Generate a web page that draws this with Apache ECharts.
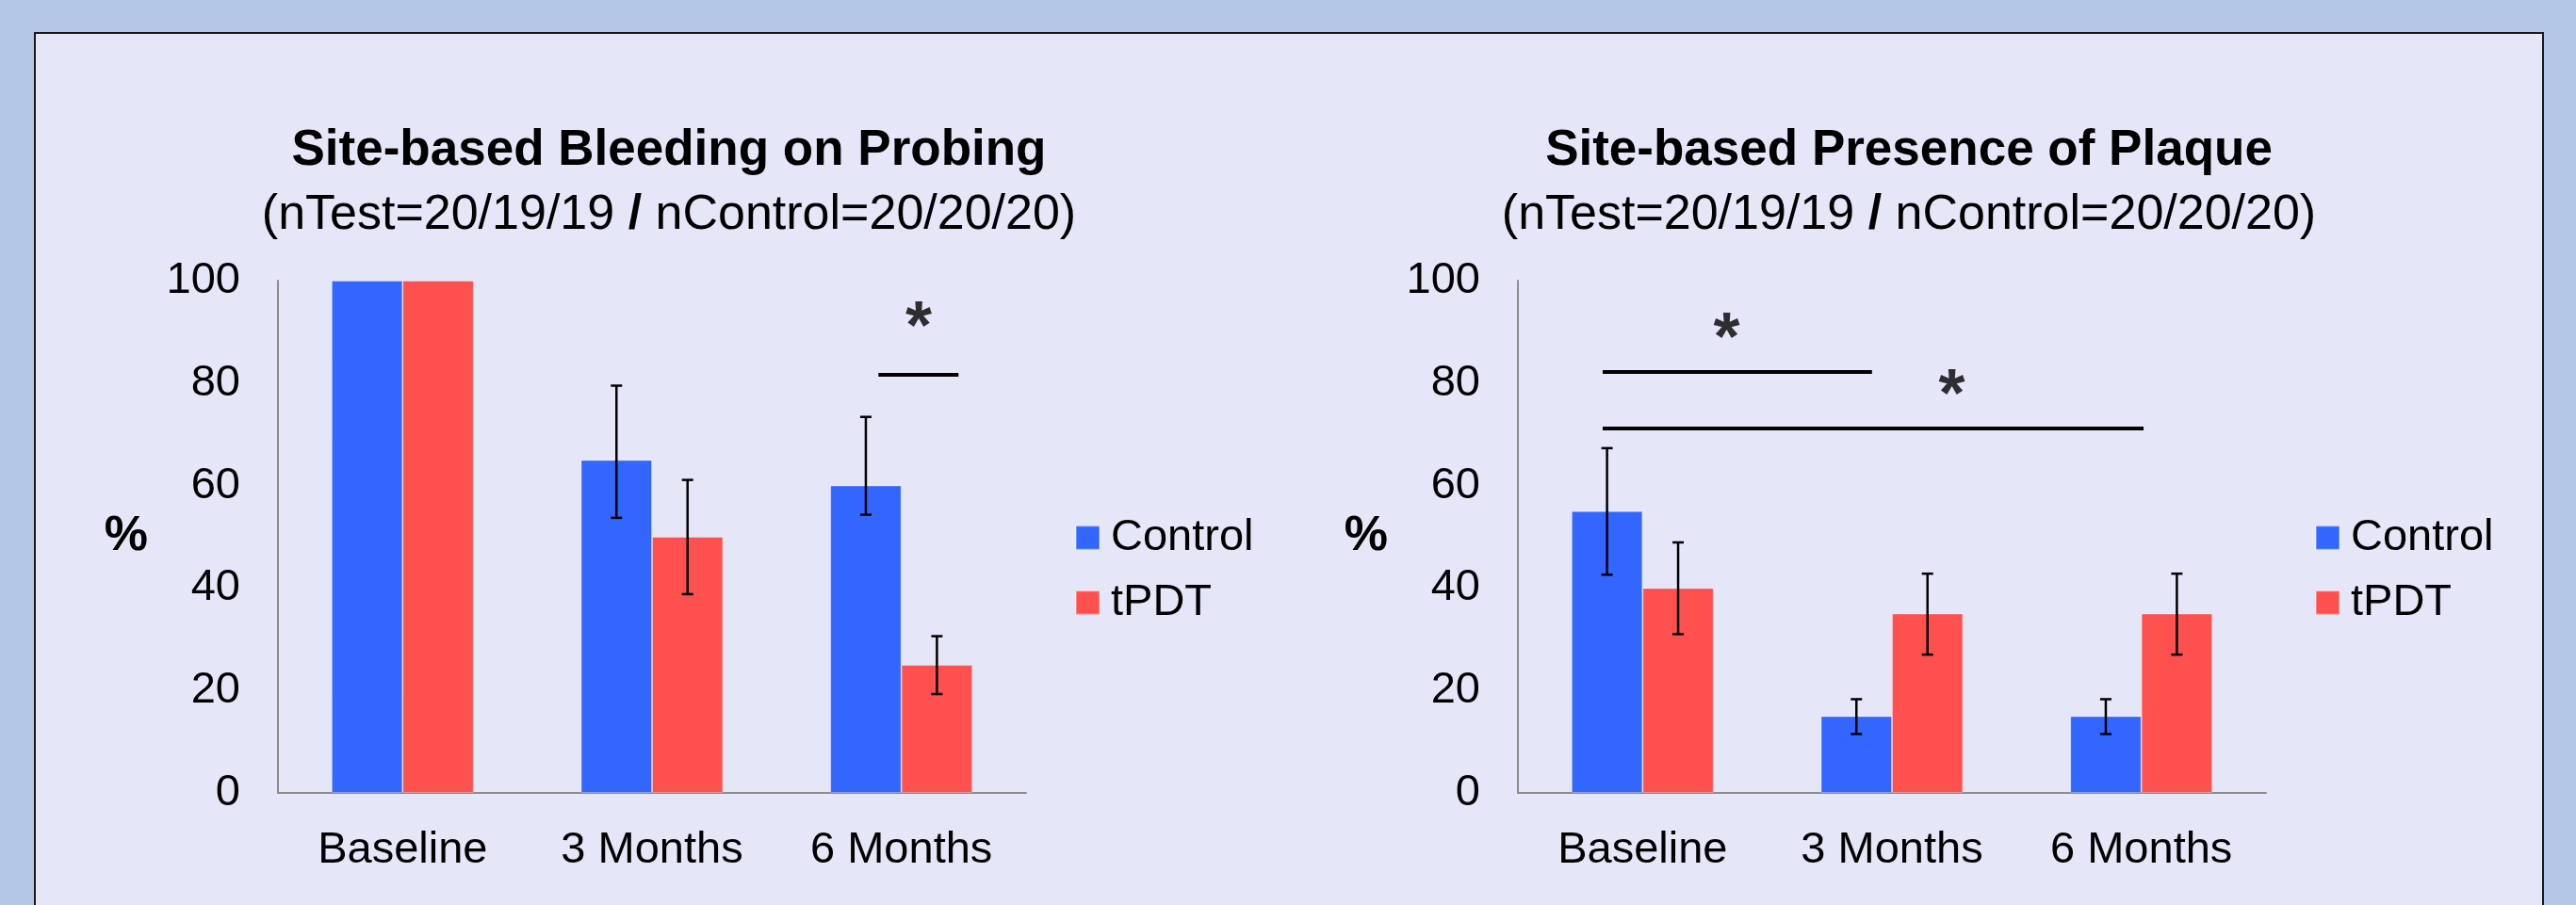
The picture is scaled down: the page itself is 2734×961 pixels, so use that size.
<!DOCTYPE html>
<html>
<head>
<meta charset="utf-8">
<script src="https://cdn.jsdelivr.net/npm/echarts@6/dist/echarts.min.js"></script>
<style>
html,body{margin:0;padding:0;background:#B4C7E7;}
#chart{width:2734px;height:961px;}
</style>
</head>
<body>
<div id="chart"></div>
<script>
// ---- data ----
var categories = ['Baseline', '3 Months', '6 Months'];
var seriesNames = ['Control', 'tPDT'];
var yTicks = [0, 20, 40, 60, 80, 100];

// Site-based Bleeding on Probing (%)
var bopControl = [100, 65, 60];
var bopTpdt = [100, 50, 25];
var bopControlErrLow = [null, 53.7, 54.3];
var bopControlErrHigh = [null, 79.5, 73.4];
var bopTpdtErrLow = [null, 38.8, 19.3];
var bopTpdtErrHigh = [null, 61.1, 30.6];
// significance bars: [xStart, xEnd, y] in category units (0..3) and %
var bopSigLines = [[2.408, 2.729, 81.6]];
var bopStars = [[2.569, 93.3]];

// Site-based Presence of Plaque (%)
var plqControl = [55, 15, 15];
var plqTpdt = [40, 35, 35];
var plqControlErrLow = [42.6, 11.5, 11.5];
var plqControlErrHigh = [67.3, 18.3, 18.3];
var plqTpdtErrLow = [31.0, 27.0, 27.0];
var plqTpdtErrHigh = [48.9, 42.8, 42.8];
var plqSigLines = [[0.340, 1.420, 82.2], [0.340, 2.509, 71.1]];
var plqStars = [[0.837, 91.2], [1.740, 80.1]];

var titles = ['Site-based Bleeding on Probing', 'Site-based Presence of Plaque'];
var subtitle = '(nTest=20/19/19 {b|/} nControl=20/20/20)';

// ---- styling ----
var FONT = '"Liberation Sans", Arial, Helvetica, sans-serif';
var BLUE = '#3366FF', RED = '#FF5050';
var BAR_W = 0.285;

var chart = echarts.init(document.getElementById('chart'), null, {renderer: 'canvas'});

function errData(lo, hi) {
  var out = [];
  for (var i = 0; i < lo.length; i++) {
    if (lo[i] != null && hi[i] != null) out.push([i, lo[i], hi[i]]);
  }
  return out;
}

function errSeries(name, lo, hi, axisIdx, sign) {
  return {
    type: 'custom', name: name, xAxisIndex: axisIdx * 2, yAxisIndex: axisIdx, z: 5,
    data: errData(lo, hi),
    encode: {x: 0, y: [1, 2]},
    renderItem: function (params, api) {
      var c = api.value(0);
      var pLo = api.coord([c, api.value(1)]);
      var pHi = api.coord([c, api.value(2)]);
      var band = api.size([1, 0])[0];
      var x = pLo[0] + sign * band * BAR_W / 2;
      var cap = 6;
      var st = {stroke: '#000', lineWidth: 2.5};
      return {type: 'group', children: [
        {type: 'line', shape: {x1: x, y1: pHi[1], x2: x, y2: pLo[1]}, style: st},
        {type: 'line', shape: {x1: x - cap, y1: pHi[1], x2: x + cap, y2: pHi[1]}, style: st},
        {type: 'line', shape: {x1: x - cap, y1: pLo[1], x2: x + cap, y2: pLo[1]}, style: st}
      ]};
    },
    silent: true, tooltip: {show: false}
  };
}

function sigSeries(lines, axisIdx) {
  return {
    type: 'lines', coordinateSystem: 'cartesian2d', xAxisIndex: axisIdx * 2 + 1, yAxisIndex: axisIdx,
    z: 6, silent: true,
    lineStyle: {color: '#000', width: 4, opacity: 1},
    data: lines.map(function (l) { return {coords: [[l[0], l[2]], [l[1], l[2]]]}; })
  };
}

function starSeries(stars, axisIdx) {
  return {
    type: 'scatter', xAxisIndex: axisIdx * 2 + 1, yAxisIndex: axisIdx, z: 6, silent: true,
    symbolSize: 0, data: stars,
    label: {show: true, formatter: '*', position: 'inside', offset: [0, 16],
      fontFamily: FONT, fontWeight: 'bold', fontSize: 72, color: '#000'}
  };
}

function barSeries(name, data, color, axisIdx) {
  return {
    type: 'bar', name: name, xAxisIndex: axisIdx * 2, yAxisIndex: axisIdx,
    data: data, barWidth: (BAR_W * 100) + '%', barGap: '0%',
    itemStyle: {color: color, borderColor: 'rgba(255,255,255,0.3)', borderWidth: 1},
    emphasis: {disabled: true}
  };
}

var gridTop = 298, gridH = 544, gridW = 794;
var gridLefts = [295, 1611];

function catAxis(g) {
  return {
    type: 'category', gridIndex: g, data: categories,
    axisLine: {show: true, lineStyle: {color: '#8c8c8c', width: 2}},
    axisTick: {show: false},
    axisLabel: {fontFamily: FONT, fontSize: 47, color: '#000', margin: 38},
    splitLine: {show: false}
  };
}
function hiddenX(g) {
  return {type: 'value', gridIndex: g, min: 0, max: 3, show: false};
}
function valAxis(g) {
  return {
    type: 'value', gridIndex: g, min: yTicks[0], max: yTicks[yTicks.length - 1], interval: 20,
    axisLine: {show: true, lineStyle: {color: '#8c8c8c', width: 2}},
    axisTick: {show: false},
    splitLine: {show: false},
    axisLabel: {fontFamily: FONT, fontSize: 47, color: '#000', margin: 40},
    name: '%', nameLocation: 'middle', nameRotate: 0, nameGap: 138,
    nameTextStyle: {fontFamily: FONT, fontSize: 52, fontWeight: 'bold', color: '#000'}
  };
}

function legendAt(left) {
  return {
    data: seriesNames, orient: 'vertical', left: left, top: 542,
    itemWidth: 25, itemHeight: 25, itemGap: 21, icon: 'rect',
    textStyle: {fontFamily: FONT, fontSize: 47, lineHeight: 48, color: '#000', padding: [0, 0, 0, 7]},
    selectedMode: false
  };
}

function titleText(x, str) {
  return [
    {type: 'text', x: x, y: 160, z: 10,
      style: {text: str, fontFamily: FONT, fontSize: 53, fontWeight: 'bold', fill: '#000',
        align: 'center', verticalAlign: 'middle'}},
    {type: 'text', x: x, y: 229, z: 10,
      style: {text: subtitle, fontFamily: FONT, fontSize: 52, fill: '#000',
        align: 'center', verticalAlign: 'middle',
        rich: {b: {fontFamily: FONT, fontSize: 52, fontWeight: 'bold', fill: '#000'}}}}
  ];
}

var option = {
  backgroundColor: '#B4C7E7',
  animation: false,
  graphic: [
    {type: 'rect', z: -10, shape: {x: 37, y: 35, width: 2662, height: 1000},
      style: {fill: '#E6E6F9', stroke: '#1a1a1a', lineWidth: 2}}
  ].concat(titleText(710, titles[0])).concat(titleText(2026, titles[1])),
  grid: gridLefts.map(function (l) { return {left: l, top: gridTop, width: gridW, height: gridH, containLabel: false}; }),
  xAxis: [catAxis(0), hiddenX(0), catAxis(1), hiddenX(1)],
  yAxis: [valAxis(0), valAxis(1)],
  legend: [legendAt(1136), legendAt(2452)],
  series: [
    barSeries(seriesNames[0], bopControl, BLUE, 0),
    barSeries(seriesNames[1], bopTpdt, RED, 0),
    errSeries(seriesNames[0], bopControlErrLow, bopControlErrHigh, 0, -1),
    errSeries(seriesNames[1], bopTpdtErrLow, bopTpdtErrHigh, 0, 1),
    sigSeries(bopSigLines, 0),
    starSeries(bopStars, 0),
    barSeries(seriesNames[0], plqControl, BLUE, 1),
    barSeries(seriesNames[1], plqTpdt, RED, 1),
    errSeries(seriesNames[0], plqControlErrLow, plqControlErrHigh, 1, -1),
    errSeries(seriesNames[1], plqTpdtErrLow, plqTpdtErrHigh, 1, 1),
    sigSeries(plqSigLines, 1),
    starSeries(plqStars, 1)
  ]
};
chart.setOption(option);
</script>
</body>
</html>
